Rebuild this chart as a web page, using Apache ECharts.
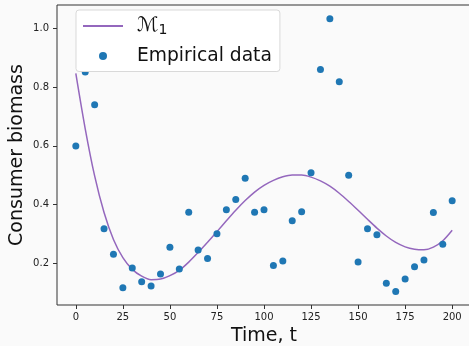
<!DOCTYPE html>
<html>
<head>
<meta charset="utf-8">
<script src="https://cdn.jsdelivr.net/npm/echarts@6/dist/echarts.min.js"></script>
<style>
  html, body { margin: 0; padding: 0; background: #fafafa; }
  #chart { width: 469px; height: 346px; }
</style>
</head>
<body>
<div id="chart"></div>
<script>
// sampling times (t = 0..200, step 5)
const times = [0, 5, 10, 15, 20, 25, 30, 35, 40, 45, 50, 55, 60, 65, 70, 75, 80, 85, 90, 95, 100,
  105, 110, 115, 120, 125, 130, 135, 140, 145, 150, 155, 160, 165, 170, 175, 180, 185, 190, 195, 200]

// observed consumer biomass
const empirical = [0.599, 0.852, 0.740, 0.317, 0.230, 0.115, 0.183, 0.136, 0.121, 0.162, 0.254,
  0.179, 0.373, 0.244, 0.215, 0.300, 0.382, 0.417, 0.489, 0.373, 0.382,
  0.191, 0.207, 0.344, 0.375, 0.508, 0.860, 1.034, 0.819, 0.499, 0.203,
  0.317, 0.296, 0.131, 0.103, 0.145, 0.187, 0.210, 0.372, 0.264, 0.412]

// fitted model M1 at the same times
const model = [0.847, 0.658, 0.497, 0.372, 0.280, 0.218, 0.178, 0.155, 0.143, 0.145, 0.157,
  0.175, 0.203, 0.236, 0.271, 0.307, 0.344, 0.380, 0.413, 0.442, 0.465,
  0.482, 0.494, 0.500, 0.500, 0.493, 0.480, 0.462, 0.438, 0.410, 0.380,
  0.349, 0.319, 0.292, 0.270, 0.255, 0.247, 0.245, 0.254, 0.276, 0.312]

const xTicks = [0, 25, 50, 75, 100, 125, 150, 175, 200]
const yTicks = [0.2, 0.4, 0.6, 0.8, 1.0]

const chart = echarts.init(document.getElementById('chart'))
const font = 'DejaVu Sans'

chart.setOption({
  backgroundColor: '#fafafa',
  animation: false,
  textStyle: { fontFamily: font },
  grid: {
    left: 57, top: 5, width: 414, height: 300,
    containLabel: false,
    outerBoundsMode: 'none',
    show: true, backgroundColor: '#fafafa', borderColor: '#333', borderWidth: 1
  },
  legend: {
    orient: 'vertical',
    left: 76, top: 10,
    padding: [6, 8, 6, 6],
    backgroundColor: '#ffffff',
    borderColor: '#d9d9d9',
    borderWidth: 1,
    borderRadius: 3,
    itemWidth: 40,
    itemHeight: 8,
    itemGap: 9,
    textStyle: {
      fontSize: 18.7, color: '#111', fontFamily: font, padding: [0, 0, 0, 9],
      rich: {
        m: { fontSize: 20, color: '#111', fontFamily: font },
        s: { fontSize: 14, color: '#111', fontFamily: font, padding: [9, 0, 0, 0] }
      }
    },
    formatter: (name) => name === 'M1' ? '{m|ℳ}{s|1}' : name,
    data: [
      { name: 'M1', itemStyle: { opacity: 0 } },
      { name: 'Empirical data', icon: 'circle' }
    ]
  },
  xAxis: {
    type: 'value',
    min: -10, max: 210,
    name: 'Time, t',
    nameLocation: 'middle',
    nameGap: 19,
    nameTextStyle: { fontSize: 19, color: '#111', fontFamily: font },
    axisLine: { show: false, onZero: false },
    axisTick: { show: true, length: 4, lineStyle: { color: '#333' }, customValues: xTicks },
    axisLabel: { fontSize: 10, color: '#222', margin: 7, customValues: xTicks, formatter: (v) => String(v) },
    splitLine: { show: false }
  },
  yAxis: {
    type: 'value',
    min: 0.0565, max: 1.0806,
    name: 'Consumer biomass',
    nameLocation: 'middle',
    nameGap: 30,
    nameMoveOverlap: false,
    nameTextStyle: { fontSize: 19, color: '#111', fontFamily: font },
    axisLine: { show: false, onZero: false },
    axisTick: { show: true, length: 4, lineStyle: { color: '#333' }, customValues: yTicks },
    axisLabel: { fontSize: 10, color: '#222', margin: 8, customValues: yTicks, formatter: (v) => v.toFixed(1) },
    splitLine: { show: false }
  },
  series: [
    {
      name: 'M1',
      type: 'line',
      data: times.map((t, i) => [t, model[i]]),
      smooth: 0.3,
      symbol: 'none',
      lineStyle: { color: '#9467bd', width: 1.5 },
      itemStyle: { color: '#9467bd' },
      z: 2
    },
    {
      name: 'Empirical data',
      type: 'scatter',
      data: times.map((t, i) => [t, empirical[i]]),
      symbolSize: 7,
      itemStyle: { color: '#1f77b4', opacity: 1 },
      z: 3
    }
  ]
})
</script>
</body>
</html>
